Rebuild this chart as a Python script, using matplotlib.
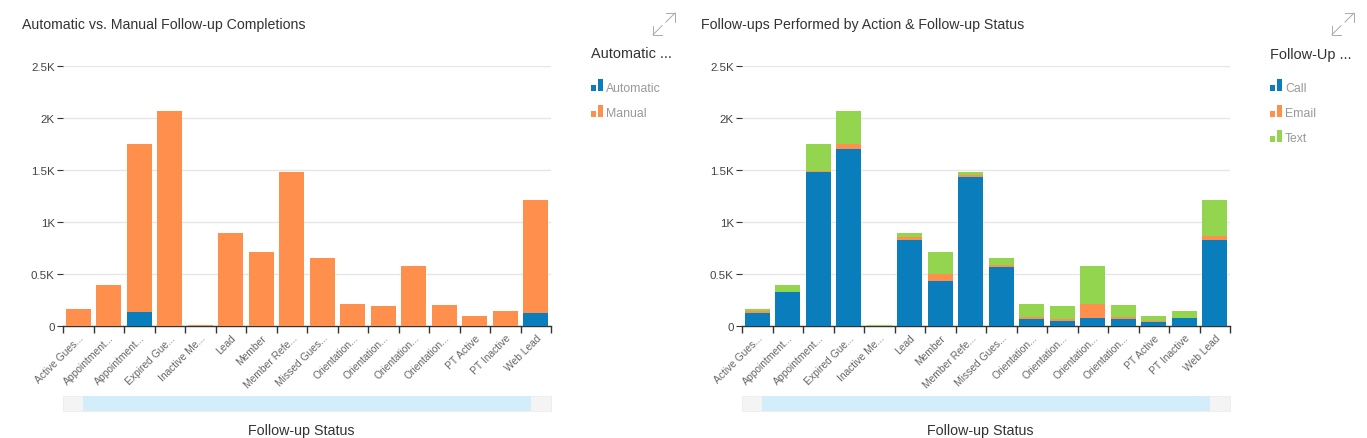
import matplotlib
matplotlib.use("Agg")
import matplotlib.pyplot as plt
from matplotlib.patches import Rectangle
import numpy as np

plt.rcParams["font.family"] = ["Liberation Sans", "DejaVu Sans"]

# Data
statuses = ["Active Gues...", "Appointment...", "Appointment...", "Expired Gue...",
            "Inactive Me...", "Lead", "Member", "Member Refe...", "Missed Gues...",
            "Orientation...", "Orientation...", "Orientation...", "Orientation...",
            "PT Active", "PT Inactive", "Web Lead"]
automatic = [0, 0, 138, 0, 0, 0, 0, 0, 0, 0, 0, 0, 0, 0, 0, 128]
manual = [166, 397, 1615, 2070, 16, 897, 714, 1484, 657, 214, 195, 580, 205, 99, 147, 1087]
call = [128, 330, 1480, 1705, 2, 830, 436, 1436, 570, 70, 51, 80, 70, 41, 80, 830]
email = [19, 2, 10, 50, 0, 29, 67, 19, 20, 22, 22, 134, 22, 10, 2, 41]
text = [19, 65, 263, 315, 14, 38, 211, 29, 67, 122, 122, 366, 113, 48, 65, 344]
y_ticks = [0, 500, 1000, 1500, 2000, 2500]
y_labels = ["0", "0.5K", "1K", "1.5K", "2K", "2.5K"]

BLUE = "#0a7dbc"
ORANGE = "#ff8f4c"
GREEN = "#94d550"

W, H = 1367, 439
fig = plt.figure(figsize=(W/100, H/100), dpi=100)

# Overlay in pixel coordinates for titles, legends, sliders and icons
over = fig.add_axes([0, 0, 1, 1], zorder=5)
over.set_xlim(0, W)
over.set_ylim(H, 0)
over.axis("off")


def px(size):
  return size*0.72


def make_axes(left, series, colors):
  ax = fig.add_axes([left/W, 1 - 327.3/H, 488/W, 260/H])
  xs = np.arange(len(statuses))
  bottom = np.zeros(len(statuses))
  for values, color in zip(series, colors):
    ax.bar(xs, values, width=0.82, bottom=bottom, color=color, zorder=3)
    bottom += np.array(values)
  ax.set_xlim(-0.5, len(statuses) - 0.5)
  ax.set_ylim(0, 2500)
  ax.set_yticks(y_ticks)
  ax.set_yticklabels(y_labels, fontsize=px(11.5), color="#444444")
  ax.set_xticks(np.arange(len(statuses) + 1) - 0.5, minor=True)
  # Major ticks are invisible, only the labels show at the bar centres
  ax.set_xticks(xs)
  ax.set_xticklabels(statuses, rotation=45, ha="right", rotation_mode="anchor",
                     fontsize=px(10.2), color="#666666")
  ax.tick_params(axis="x", which="major", length=0, pad=4.4)
  ax.tick_params(axis="x", which="minor", length=5, width=1, color="#333333")
  ax.tick_params(axis="y", length=4.5, width=0.8, color="#333333", pad=1.5)
  for name in ("top", "right", "left"):
    ax.spines[name].set_visible(False)
  ax.spines["bottom"].set_color("#333333")
  ax.spines["bottom"].set_linewidth(1)
  ax.set_axisbelow(True)
  ax.grid(axis="y", color="#e6e6e6", linewidth=1)
  ax.patch.set_alpha(0)
  return ax


def slider(left):
  over.add_patch(Rectangle((left, 397), 488, 14.7, facecolor="#f4f4f4", edgecolor="#ececec", linewidth=0.6))
  over.add_patch(Rectangle((left + 20, 397), 447.5, 14.7, facecolor="#d3eefa", edgecolor="none"))
  over.text(left + 238.5, 431.5, "Follow-up Status", fontsize=px(14.3), color="#333333", ha="center", va="center")


def expand_icon(left):
  c = "#aaaaaa"
  over.plot([left, left, left + 9], [27, 35.7, 35.7], color=c, lw=0.7)
  over.plot([left + 13, left + 22, left + 22], [14, 14, 23], color=c, lw=0.7)
  over.plot([left, left + 9], [35.7, 26.7], color=c, lw=0.7)
  over.plot([left + 13, left + 22], [23, 14], color=c, lw=0.7)


def legend(left, title, names, colors, rows):
  over.text(left, 54.5, title, fontsize=px(14.5), color="#333333", va="center")
  for name, color, row in zip(names, colors, rows):
    over.add_patch(Rectangle((left, row - 6), 5, 6, facecolor=color, edgecolor="none"))
    over.add_patch(Rectangle((left + 7, row - 12), 5, 12, facecolor=color, edgecolor="none"))
    over.text(left + 15, row - 3.5, name, fontsize=px(12.3), color="#999999", va="center")


make_axes(63.2, [automatic, manual], [BLUE, ORANGE])
make_axes(742.2, [call, email, text], [BLUE, ORANGE, GREEN])

over.text(22, 25.5, "Automatic vs. Manual Follow-up Completions", fontsize=px(14.1), color="#333333", va="center")
over.text(701, 25.5, "Follow-ups Performed by Action & Follow-up Status", fontsize=px(14.1), color="#333333", va="center")

slider(63.2)
slider(742.2)
expand_icon(653)
expand_icon(1332)
legend(591, "Automatic ...", ["Automatic", "Manual"], [BLUE, ORANGE], [92, 118])
legend(1270, "Follow-Up ...", ["Call", "Email", "Text"], [BLUE, ORANGE, GREEN], [92, 118, 143])

fig.savefig("out.png", dpi=100)
